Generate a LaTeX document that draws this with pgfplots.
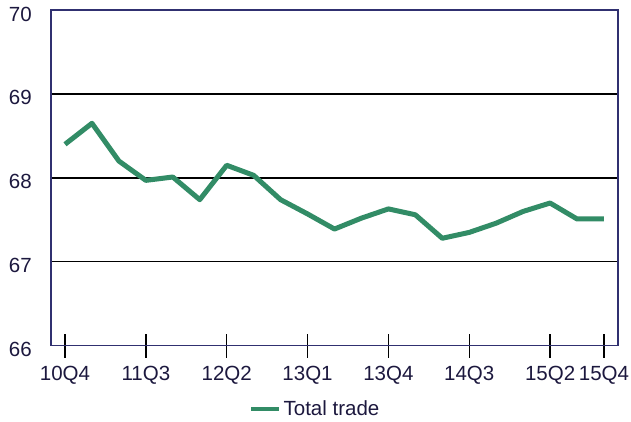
\documentclass[border=0pt]{standalone}
\usepackage{fontspec}
\setmainfont{Liberation Sans}
\usepackage{pgfplots}
\pgfplotsset{compat=1.18}
\definecolor{linegreen}{RGB}{50,140,102}
\definecolor{framenavy}{RGB}{48,48,112}
\definecolor{labeltext}{RGB}{28,24,62}
\begin{document}
\begin{tikzpicture}[x=1pt,y=1pt]
\useasboundingbox (0,0) rectangle (631,421);
\begin{axis}[
  at={(51pt,75.3pt)}, anchor=south west,
  scale only axis, width=567pt, height=335.7pt,
  xmin=-0.52, xmax=20.52, ymin=66, ymax=70,
  axis line style={draw=none},
  /pgf/number format/assume math mode=true,
  tick label style={font=\fontsize{20.5}{24}\selectfont, text=labeltext},
  xtick={0,3,6,9,12,15,18,20},
  xticklabels={10Q4,11Q3,12Q2,13Q1,13Q4,14Q3,15Q2,15Q4},
  xtick pos=bottom, ytick pos=left,
  x tick style={draw=black, line width=1.3pt},
  tick align=center, major tick length=24pt,
  xticklabel style={anchor=north, inner sep=0pt, yshift=-8.5pt},
  ytick={66,67,68,69,70},
  y tick style={draw=none},
  yticklabel style={anchor=east, inner sep=0pt, xshift=-7pt, yshift=-4pt},
  extra y ticks={67,68,69},
  extra y tick labels={},
  extra y tick style={ymajorgrids=true, tick align=outside, major tick length=12pt,
    tick style={draw=black, line width=1.3pt},
    major grid style={draw=black, line width=1.3pt}},
  legend style={at={(axis description cs:0.349,-0.1886)}, anchor=west,
    draw=none, fill=none, inner sep=0pt,
    font=\fontsize{20.5}{24}\selectfont, text=labeltext},
  legend image code/.code={\draw[#1, line width=4.5pt] (0pt,0pt) -- (28pt,0pt);},
  clip=false,
]
\draw[framenavy, line width=1.5pt] (rel axis cs:0,0) rectangle (rel axis cs:1,1);
\addplot[linegreen, line width=5pt, line join=round, mark=none] coordinates {
(0,68.40) (1,68.65) (2,68.20) (3,67.97) (4,68.01) (5,67.74) (6,68.15)
(7,68.03) (8,67.74) (9,67.57) (10,67.39) (11,67.52) (12,67.63) (13,67.56)
(14,67.28) (15,67.35) (16,67.46) (17,67.60) (18,67.70) (19,67.51) (20,67.51)
};
\addlegendentry{Total trade}
\end{axis}
\end{tikzpicture}
\end{document}
